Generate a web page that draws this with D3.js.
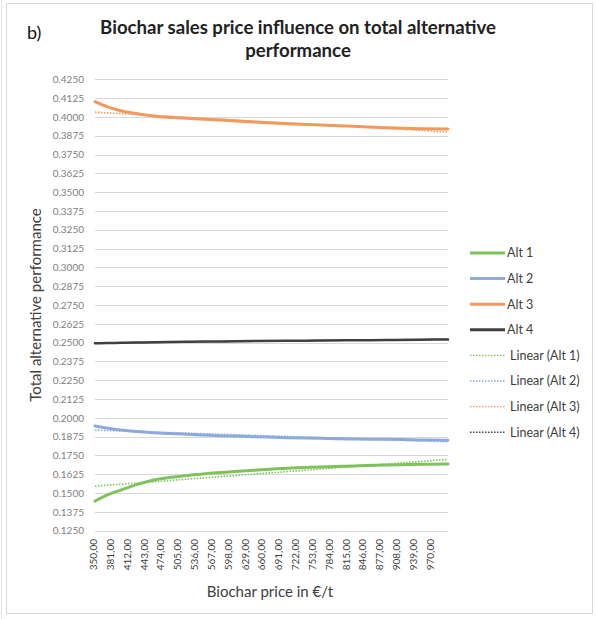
<!DOCTYPE html>
<html>
<head>
<meta charset="utf-8">
<script src="https://cdn.jsdelivr.net/npm/d3@7"></script>
<style>
  html, body { margin: 0; padding: 0; background: #fff; }
  svg { display: block; font-family: Lato, "Open Sans", sans-serif; }
</style>
</head>
<body>
<svg id="chart" width="596" height="619"></svg>
<script>
// Biochar price (€/t) at which each series value was taken
const prices = [350, 372, 397, 428, 458, 519, 581, 642, 704, 765, 826, 888, 949, 1000];

// Total alternative performance per alternative
const alt1 = [0.1447, 0.1487, 0.1520, 0.1558, 0.1587, 0.1616, 0.1636, 0.1651, 0.1665, 0.1673, 0.1680, 0.1687, 0.1691, 0.1693];
const alt2 = [0.1946, 0.1932, 0.1919, 0.1909, 0.1901, 0.1891, 0.1881, 0.1875, 0.1868, 0.1864, 0.1859, 0.1857, 0.1853, 0.1851];
const alt3 = [0.4101, 0.4068, 0.4041, 0.4021, 0.4006, 0.3991, 0.3980, 0.3966, 0.3955, 0.3946, 0.3938, 0.3928, 0.3922, 0.3920];
const alt4 = [0.2496, 0.2497, 0.2499, 0.2500, 0.2502, 0.2506, 0.2508, 0.2510, 0.2512, 0.2514, 0.2516, 0.2517, 0.2519, 0.2521];

// Linear trend lines: value at the first and last price
const trendPrices = [350, 1000];
const trend1 = [0.1546, 0.1724];
const trend2 = [0.1919, 0.1841];
const trend3 = [0.4032, 0.3900];
const trend4 = [0.2497, 0.2523];

// Axis ticks
const xTickValues = [350, 381, 412, 443, 474, 505, 536, 567, 598, 629, 660, 691, 722, 753, 784, 815, 846, 877, 908, 939, 970];
const yTickValues = [0.125, 0.1375, 0.15, 0.1625, 0.175, 0.1875, 0.2, 0.2125, 0.225, 0.2375, 0.25, 0.2625, 0.275,
                     0.2875, 0.3, 0.3125, 0.325, 0.3375, 0.35, 0.3625, 0.375, 0.3875, 0.4, 0.4125, 0.425];

const seriesNames = ["Alt 1", "Alt 2", "Alt 3", "Alt 4"];
const colors = ["#7fc25c", "#8eaadc", "#f29a5e", "#404040"];

const svg = d3.select("#chart");

// outer frame
svg.append("rect").attr("x", 6.5).attr("y", 3.5).attr("width", 586).attr("height", 610)
  .attr("fill", "none").attr("stroke", "#d9d9d9");
svg.append("line").attr("x1", 1.5).attr("x2", 1.5).attr("y1", 0).attr("y2", 619)
  .attr("stroke", "#e3e3e3");

const x = d3.scaleLinear().domain([350, 1000]).range([95, 448]);
const y = d3.scaleLinear().domain([0.125, 0.425]).range([530.7, 79.3]);

// horizontal gridlines
svg.append("g").selectAll("line").data(yTickValues).join("line")
  .attr("x1", x(350)).attr("x2", x(1000))
  .attr("y1", d => Math.round(y(d)) + 0.5).attr("y2", d => Math.round(y(d)) + 0.5)
  .attr("stroke", "#d9d9d9").attr("stroke-width", 1);

// y axis labels
const yAxis = d3.axisLeft(y).tickValues(yTickValues).tickSize(0).tickPadding(0)
  .tickFormat(d3.format(".4f"));
const gy = svg.append("g").attr("transform", "translate(84,0)").call(yAxis);
gy.select(".domain").remove();
gy.selectAll("text").attr("fill", "#808080").attr("font-size", "10px")
  .attr("font-family", "Lato, sans-serif");

// x axis labels (rotated)
const xAxis = d3.axisBottom(x).tickValues(xTickValues).tickSize(0)
  .tickFormat(d => d3.format(".2f")(d).replace(".", ","));
const gx = svg.append("g").attr("transform", "translate(-2,539)").call(xAxis);
gx.select(".domain").remove();
gx.selectAll("text")
  .attr("transform", "rotate(-90)")
  .attr("text-anchor", "end")
  .attr("x", 0).attr("y", 0).attr("dy", "0.35em")
  .attr("fill", "#404040").attr("font-size", "10px")
  .attr("font-family", "Lato, sans-serif");

// series
const line = d3.line().x(d => x(d[0])).y(d => y(d[1])).curve(d3.curveMonotoneX);
[alt1, alt2, alt3, alt4].forEach((vals, i) => {
  svg.append("path")
    .datum(prices.map((p, j) => [p, vals[j]]))
    .attr("d", line)
    .attr("fill", "none")
    .attr("stroke", colors[i])
    .attr("stroke-width", i === 3 ? 2.5 : 3)
    .attr("stroke-linecap", "round");
});

// linear trend lines (dotted)
[trend1, trend2, trend3, trend4].forEach((vals, i) => {
  svg.append("path")
    .datum(trendPrices.map((p, j) => [p, vals[j]]))
    .attr("d", d3.line().x(d => x(d[0])).y(d => y(d[1])))
    .attr("fill", "none")
    .attr("stroke", colors[i])
    .attr("stroke-width", 1.6)
    .attr("stroke-dasharray", "1.5,1.5");
});

// titles
svg.append("text").attr("x", 27).attr("y", 39).text("b)")
  .attr("font-size", "18px").attr("fill", "#111").attr("font-family", "Lato, sans-serif");
const title = svg.append("text").attr("text-anchor", "middle")
  .attr("font-family", "Lato, sans-serif").attr("font-weight", "bold")
  .attr("font-size", "18.6px").attr("fill", "#222");
title.append("tspan").attr("x", 298).attr("y", 34).text("Biochar sales price influence on total alternative");
title.append("tspan").attr("x", 298).attr("y", 57).text("performance");

svg.append("text").attr("x", 270).attr("y", 597).attr("text-anchor", "middle")
  .attr("font-size", "15px").attr("fill", "#404040").attr("font-family", "Lato, sans-serif")
  .text("Biochar price in €/t");
svg.append("text").attr("transform", "translate(41,305) rotate(-90)").attr("text-anchor", "middle")
  .attr("font-size", "15px").attr("fill", "#404040").attr("font-family", "Lato, sans-serif")
  .text("Total alternative performance");

// legend
const legendItems = seriesNames.map((n, i) => ({ name: n, color: colors[i], dotted: false }))
  .concat(seriesNames.map((n, i) => ({ name: "Linear (" + n + ")", color: colors[i], dotted: true })));
const lg = svg.append("g").selectAll("g").data(legendItems).join("g")
  .attr("transform", (d, i) => `translate(0,${253 + i * 25.6})`);
lg.append("line").attr("x1", 470).attr("x2", 505).attr("y1", 0).attr("y2", 0)
  .attr("stroke", d => d.color)
  .attr("stroke-width", d => d.dotted ? 1.4 : 3)
  .attr("stroke-dasharray", d => d.dotted ? "1.5,1.5" : null);
lg.append("text").attr("x", d => d.dotted ? 510 : 507).attr("y", 0).attr("dy", "0.35em")
  .attr("font-size", "12.5px").attr("fill", "#404040").attr("font-family", "Lato, sans-serif")
  .text(d => d.name);
</script>
</body>
</html>
